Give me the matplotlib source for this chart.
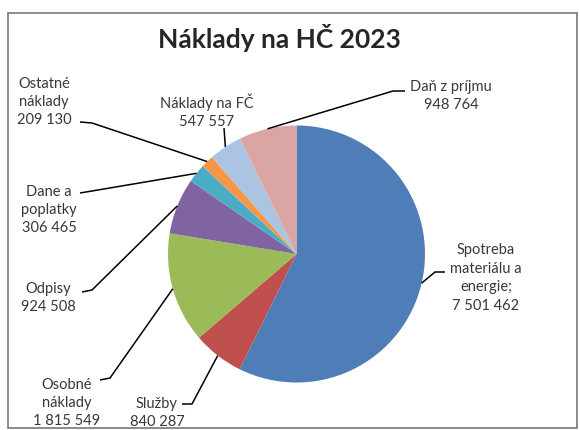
import numpy as np
import matplotlib.pyplot as plt
from matplotlib.patches import Rectangle

# data
labels = ['Spotreba\nmateriálu a\nenergie;', 'Služby', 'Osobné\nnáklady', 'Odpisy',
          'Dane a\npoplatky', 'Ostatné\nnáklady', 'Náklady na FČ', 'Daň z príjmu']
values = [7501462, 840287, 1815549, 924508, 306465, 209130, 547557, 948764]
colors = ['#4f7db8', '#c0504d', '#9bbb59', '#8064a2', '#4bacc6', '#f79646', '#aac4e2', '#dba5a4']

W, H = 580, 430


def fmt(v):
    return f'{v:,}'.replace(',', ' ')


def py(y):
    # picture y (from top) -> axes y (from bottom)
    return H - y


plt.rcParams['font.family'] = ['Lato', 'DejaVu Sans']

fig = plt.figure(figsize=(5.8, 4.3), dpi=100)
ax = fig.add_axes([0, 0, 1, 1])

cx, cy, r = 296.5, py(254), 128.5
wedges, _ = ax.pie(values, colors=colors, startangle=90, counterclock=False,
                   center=(cx, cy), radius=r, wedgeprops=dict(linewidth=0))
ax.set_xlim(0, W)
ax.set_ylim(0, H)
ax.set_aspect('auto')
ax.axis('off')

# chart frame
ax.add_patch(Rectangle((8, py(428)), 569, 415, fill=False, edgecolor='#777777', lw=1.2))

fig.text(279 / W, 1 - 38 / H, 'Náklady na HČ 2023', ha='center', va='center',
         fontsize=19, fontweight='bold', color='#262626')

# label text position and leader start (picture pixels)
label_pos = [(486, 278), (157, 413), (67, 403), (48, 298), (49, 210), (44, 102), (207, 111), (451, 96)]
leader_pts = [
    [(445, 272), (435, 272)],
    [(182, 404), (192, 404)],
    [(100, 380), (110, 378)],
    [(82, 292), (92, 290)],
    [(80, 193), (92, 191)],
    [(80, 122), (92, 123)],
    [(224, 128)],
    [(405, 91), (393, 91)],
]

for w, lab, v, (tx, ty), pts in zip(wedges, labels, values, label_pos, leader_pts):
    ax.text(tx, py(ty), lab + '\n' + fmt(v), ha='center', va='center', multialignment='center',
            fontsize=10.5, color='#383838', linespacing=1.4)
    mid = np.deg2rad((w.theta1 + w.theta2) / 2)
    ax_x = cx + r * np.cos(mid)
    ax_y = cy + r * np.sin(mid)
    xs = [p[0] for p in pts] + [ax_x]
    ys = [py(p[1]) for p in pts] + [ax_y]
    ax.plot(xs, ys, color='black', lw=1.1, solid_capstyle='butt')

fig.savefig('out.png', dpi=100)
